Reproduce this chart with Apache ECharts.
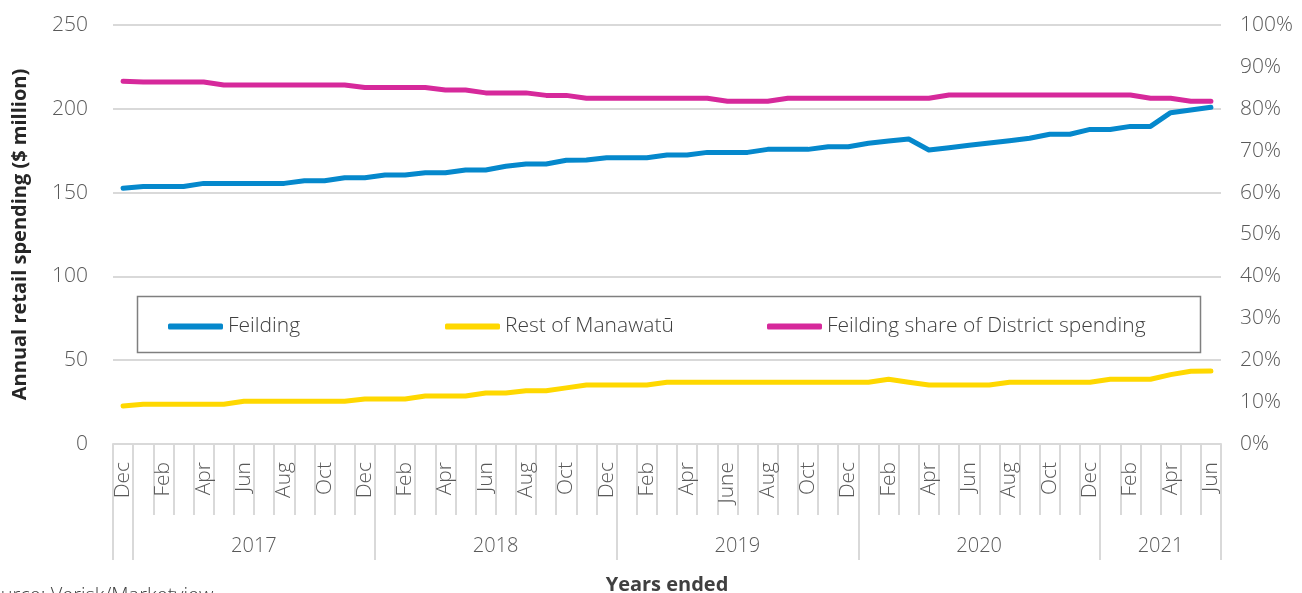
<!DOCTYPE html>
<html>
<head>
<meta charset="utf-8">
<title>Annual retail spending – Feilding and Rest of Manawatū</title>
<script src="https://cdn.jsdelivr.net/npm/echarts@6/dist/echarts.min.js"></script>
<style>
  html, body { margin: 0; padding: 0; background: #ffffff; }
  #chart { width: 1302px; height: 593px; }
</style>
</head>
<body>
<div id="chart"></div>
<script>
// Months, Dec 2016 to Jun 2021 (years ended)
const monthLabels = [
  'Dec',
  'Jan','Feb','Mar','Apr','May','Jun','Jul','Aug','Sep','Oct','Nov','Dec',
  'Jan','Feb','Mar','Apr','May','Jun','Jul','Aug','Sep','Oct','Nov','Dec',
  'Jan','Feb','Mar','Apr','May','June','Jul','Aug','Sep','Oct','Nov','Dec',
  'Jan','Feb','Mar','Apr','May','Jun','Jul','Aug','Sep','Oct','Nov','Dec',
  'Jan','Feb','Mar','Apr','May','Jun'
];
// Year groups under the month labels
const groupNames = ['', '2017', '2018', '2019', '2020', '2021'];
const groupSizes = [1, 12, 12, 12, 12, 6];

// Annual retail spending ($ million)
const feilding = [
  152.6, 153.6, 153.6, 153.6, 155.5, 155.5, 155.5, 155.5, 155.5, 157.1, 157.1, 158.9, 158.9,
  160.5, 160.5, 161.8, 161.8, 163.5, 163.5, 165.7, 167.1, 167.1, 169.3, 169.5, 170.8,
  170.8, 170.8, 172.4, 172.4, 174.0, 174.0, 174.0, 175.8, 175.8, 175.8, 177.4, 177.4,
  179.4, 180.8, 182.0, 175.4, 176.8, 178.2, 179.6, 181.0, 182.4, 184.8, 184.8, 187.7,
  187.7, 189.5, 189.5, 197.7, 199.3, 200.9
];
const restOfManawatu = [
  22.7, 23.7, 23.7, 23.7, 23.7, 23.7, 25.5, 25.5, 25.5, 25.5, 25.5, 25.5, 26.8,
  26.8, 26.8, 28.6, 28.6, 28.6, 30.4, 30.4, 31.8, 31.8, 33.5, 35.2, 35.2,
  35.2, 35.2, 36.8, 36.8, 36.8, 36.8, 36.8, 36.8, 36.8, 36.8, 36.8, 36.8,
  36.8, 38.6, 36.8, 35.2, 35.2, 35.2, 35.2, 36.8, 36.8, 36.8, 36.8, 36.8,
  38.6, 38.6, 38.6, 41.4, 43.4, 43.6
];
// Feilding share of district spending (%)
const feildingShare = [
  86.6, 86.4, 86.4, 86.4, 86.4, 85.7, 85.7, 85.7, 85.7, 85.7, 85.7, 85.7, 85.1,
  85.1, 85.1, 85.1, 84.5, 84.5, 83.8, 83.8, 83.8, 83.2, 83.2, 82.5, 82.5,
  82.5, 82.5, 82.5, 82.5, 82.5, 81.8, 81.8, 81.8, 82.5, 82.5, 82.5, 82.5,
  82.5, 82.5, 82.5, 82.5, 83.3, 83.3, 83.3, 83.3, 83.3, 83.3, 83.3, 83.3,
  83.3, 83.3, 82.5, 82.5, 81.8, 81.8
];

const seriesNames = ['Feilding', 'Rest of Manawatū', 'Feilding share of District spending'];
const seriesColors = ['#0588cc', '#ffd800', '#d6299b'];

// Build the year of each month and the group boundaries / label positions
const yearOfMonth = [];
const groupStarts = [];
const groupLabelIdx = [];
let pos = 0;
groupNames.forEach((name, g) => {
  groupStarts.push(pos);
  groupLabelIdx.push(pos + Math.floor((groupSizes[g] - 1) / 2));
  for (let k = 0; k < groupSizes[g]; k++) yearOfMonth.push(name);
  pos += groupSizes[g];
});

const FONT = '"Open Sans", Lato, sans-serif';
const GRID_GREY = '#d9d9d9';
const TEXT = '#595959';

const chart = echarts.init(document.getElementById('chart'), null, { renderer: 'canvas' });

const legendCommon = {
  orient: 'horizontal',
  top: 311,
  icon: 'roundRect',
  itemWidth: 55,
  itemHeight: 6,
  itemGap: 5,
  z: 10,
  textStyle: { fontFamily: FONT, fontWeight: 300, fontSize: 21, color: '#404040' }
};

chart.setOption({
  animation: false,
  backgroundColor: '#ffffff',
  grid: { left: 113, right: 81, top: 25, bottom: 149, containLabel: false, outerBoundsMode: 'none' },
  xAxis: [
    {
      type: 'category',
      data: monthLabels,
      boundaryGap: true,
      position: 'bottom',
      axisLine: { show: true, lineStyle: { color: GRID_GREY, width: 2 } },
      axisTick: { show: true, interval: 0, length: 71, lineStyle: { color: GRID_GREY, width: 2 } },
      axisLabel: {
        interval: 1,
        rotate: 90,
        margin: 18,
        fontFamily: FONT,
        fontWeight: 300,
        fontSize: 21,
        color: TEXT
      },
      splitLine: { show: false }
    },
    {
      type: 'category',
      data: yearOfMonth,
      boundaryGap: true,
      position: 'bottom',
      name: 'Years ended',
      nameLocation: 'middle',
      nameGap: 131,
      nameTextStyle: { fontFamily: FONT, fontWeight: 'bold', fontSize: 20, color: '#404040' },
      axisLine: { show: false },
      axisTick: {
        show: true,
        interval: (idx) => groupStarts.indexOf(idx) !== -1,
        length: 116,
        lineStyle: { color: GRID_GREY, width: 2 }
      },
      axisLabel: {
        interval: (idx) => groupLabelIdx.indexOf(idx) !== -1,
        margin: 92,
        padding: [0, 0, 0, 20],
        fontFamily: FONT,
        fontWeight: 300,
        fontSize: 20,
        color: TEXT
      },
      splitLine: { show: false }
    }
  ],
  yAxis: [
    {
      type: 'value',
      min: 0,
      max: 250,
      interval: 50,
      name: 'Annual retail spending ($ million)',
      nameLocation: 'middle',
      nameGap: 83,
      nameRotate: 90,
      nameTextStyle: { fontFamily: FONT, fontWeight: 'bold', fontSize: 20, color: '#262626' },
      axisLine: { show: false },
      axisTick: { show: false },
      axisLabel: { margin: 25, fontFamily: FONT, fontWeight: 300, fontSize: 21, color: TEXT },
      splitLine: { show: true, lineStyle: { color: GRID_GREY, width: 2 } }
    },
    {
      type: 'value',
      min: 0,
      max: 100,
      interval: 10,
      position: 'right',
      axisLine: { show: false },
      axisTick: { show: false },
      axisLabel: {
        margin: 19,
        formatter: '{value}%',
        fontFamily: FONT,
        fontWeight: 300,
        fontSize: 21,
        color: TEXT
      },
      splitLine: { show: false }
    }
  ],
  legend: [
    Object.assign({}, legendCommon, { left: 163, data: [seriesNames[0]] }),
    Object.assign({}, legendCommon, { left: 440, data: [seriesNames[1]] }),
    Object.assign({}, legendCommon, { left: 762, data: [seriesNames[2]] })
  ],
  graphic: [
    {
      type: 'rect',
      z: 5,
      shape: { x: 137.5, y: 296.5, width: 1063, height: 56 },
      style: { fill: '#ffffff', stroke: '#7f7f7f', lineWidth: 1.5 }
    },
    {
      type: 'text',
      left: -22,
      top: 586,
      style: {
        text: 'Source: Verisk/Marketview',
        font: '300 20px ' + FONT,
        fill: '#404040'
      }
    }
  ],
  series: [
    {
      name: seriesNames[0],
      type: 'line',
      xAxisIndex: 0,
      yAxisIndex: 0,
      data: feilding,
      showSymbol: false,
      symbol: 'none',
      lineStyle: { width: 5, color: seriesColors[0], cap: 'round', join: 'round' },
      itemStyle: { color: seriesColors[0] },
      z: 3
    },
    {
      name: seriesNames[1],
      type: 'line',
      xAxisIndex: 0,
      yAxisIndex: 0,
      data: restOfManawatu,
      showSymbol: false,
      symbol: 'none',
      lineStyle: { width: 5, color: seriesColors[1], cap: 'round', join: 'round' },
      itemStyle: { color: seriesColors[1] },
      z: 3
    },
    {
      name: seriesNames[2],
      type: 'line',
      xAxisIndex: 0,
      yAxisIndex: 1,
      data: feildingShare,
      showSymbol: false,
      symbol: 'none',
      lineStyle: { width: 5, color: seriesColors[2], cap: 'round', join: 'round' },
      itemStyle: { color: seriesColors[2] },
      z: 3
    }
  ]
});
</script>
</body>
</html>
